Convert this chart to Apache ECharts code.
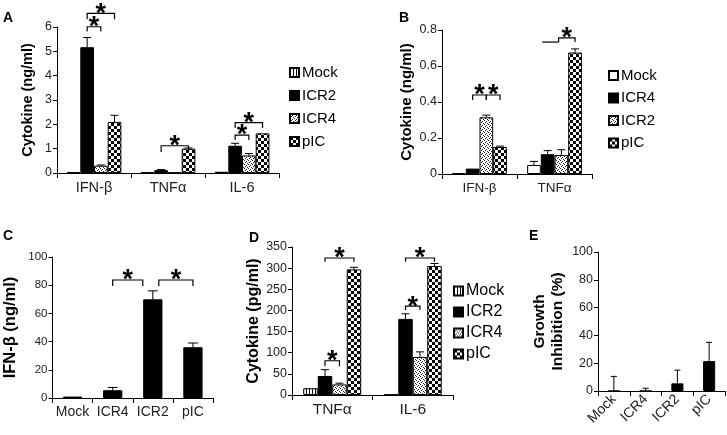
<!DOCTYPE html>
<html><head><meta charset="utf-8">
<script src="https://cdn.jsdelivr.net/npm/echarts@6/dist/echarts.min.js"></script>
<style>html,body{margin:0;padding:0;background:#fff}#c{width:727px;height:435px}</style>
</head><body><div id="c"></div>
<script>
// ---------- DATA ----------
// Panel A
const catsA = ['IFN-β', 'TNFα', 'IL-6'];
const mockA = [0.03, 0.03, 0.05];
const icr2A = [5.17, 0.12, 1.12];
const icr4A = [0.30, 0.02, 0.72];
const picA  = [2.10, 1.00, 1.63];
const errMockA = [0, 0, 0];
const errIcr2A = [0.40, 0.02, 0.10];
const errIcr4A = [0.03, 0, 0.08];
const errPicA  = [0.27, 0.03, 0];
// brackets: [category, fromBar, toBar, top, leftLegEnd, rightLegEnd, star]
const bracketsA = [[0,1,2,6.01,5.81,5.81,1],[0,1,3,6.56,6.32,6.32,1],[1,1,3,1.12,0.86,0.86,1],[2,1,2,1.56,1.36,1.36,1],[2,1,3,2.07,1.85,1.85,1]];
// Panel B
const catsB = ['IFN-β', 'TNFα'];
const mockB = [0.003, 0.05];
const icr4B = [0.03, 0.11];
const icr2B = [0.315, 0.105];
const picB  = [0.15, 0.675];
const errMockB = [0, 0.02];
const errIcr4B = [0, 0.02];
const errIcr2B = [0.012, 0.03];
const errPicB  = [0.005, 0.02];
const bracketsB = [[0,1,2,0.439,0.411,0.411,1],[0,2,3,0.439,0.411,0.411,1],[1,0.6,1.8,0.733,0.733,0.733,0],[1,1.8,3,0.756,0.733,0.733,1]];
// Panel C
const catsC = ['Mock', 'ICR4', 'ICR2', 'pIC'];
const valsC = [1, 5.5, 70, 36];
const errC  = [0, 2, 6, 3];
const bracketsC = [[1,0,0.75,83.7,79.4,79.4,1],[2,0.15,1,83.7,79.4,79.4,1]];
// Panel D
const catsD = ['TNFα', 'IL-6'];
const mockD = [16, 1];
const icr2D = [45, 180];
const icr4D = [25, 90];
const picD  = [297, 305];
const errMockD = [0, 0];
const errIcr2D = [15, 12];
const errIcr4D = [3, 12];
const errPicD  = [5, 6];
const bracketsD = [[0,1,2,81,68,68,1],[0,1,3,324,315,315,1],[1,1,2,210,201,201,1],[1,1,3,324,315,315,1]];
// Panel E
const catsE = ['Mock', 'ICR4', 'ICR2', 'pIC'];
const valsE = [0, 0, 5.5, 21.5];
const errE  = [10.5, 2, 9.5, 13.5];

// ---------- PATTERNS ----------
function makePattern(kind) {
  const c = document.createElement('canvas');
  const ctx = c.getContext('2d');
  if (kind === 'stripe') {
    c.width = 3; c.height = 3;
    ctx.fillStyle = '#fff'; ctx.fillRect(0,0,3,3);
    ctx.fillStyle = '#000'; ctx.fillRect(0,0,1,3);
  } else if (kind === 'dots') {
    c.width = 4; c.height = 4;
    ctx.fillStyle = '#fff'; ctx.fillRect(0,0,4,4);
    ctx.fillStyle = '#222';
    ctx.fillRect(0,0,1,1); ctx.fillRect(2,1,1,1); ctx.fillRect(1,2,1,1); ctx.fillRect(3,3,1,1);
  } else if (kind === 'checker') {
    c.width = 6; c.height = 6;
    ctx.fillStyle = '#fff'; ctx.fillRect(0,0,6,6);
    ctx.fillStyle = '#000'; ctx.fillRect(0,0,3,3); ctx.fillRect(3,3,3,3);
  }
  return { image: c, repeat: 'repeat' };
}
const FILL = {
  stripe: makePattern('stripe'),
  dots: makePattern('dots'),
  checker: makePattern('checker'),
  black: '#000',
  white: '#fff'
};

// ---------- HELPERS ----------
const FONT = '"Liberation Sans", Arial, sans-serif';
const panels = [
  { id: 0, n: 4, gap: 0.26, cap: 8 },
  { id: 1, n: 4, gap: 0.27, cap: 8 },
  { id: 2, n: 1, gap: 0,    cap: 10 },
  { id: 3, n: 4, gap: 0.28, cap: 8 },
  { id: 4, n: 1, gap: 0.62, cap: 6 }
];
function barX(api, cat, bar, n, gap) {
  const c = api.coord([cat, 0])[0];
  const bw = api.size([1, 0])[0];
  const step = bw * (1 - gap) / n;
  return c + (bar - (n - 1) / 2) * step;
}
function pIdx(p) { return 'ABCDE'.indexOf(p); }
function barSeries(p, name, data, fill) {
  return {
    type: 'bar', name: p + '|' + name, data: data,
    xAxisIndex: pIdx(p), yAxisIndex: pIdx(p),
    barGap: '0%', barCategoryGap: (panels[pIdx(p)].gap * 100) + '%',
    itemStyle: { color: fill, borderColor: '#000', borderWidth: 1 },
    emphasis: { disabled: true }, animation: false, z: 2
  };
}
function errSeries(p, groups) {
  const cfg = panels[pIdx(p)];
  const data = [];
  groups.forEach((g, bi) => g.v.forEach((v, ci) => { if (g.e[ci] > 0) data.push([ci, bi, v, g.e[ci]]); }));
  return {
    type: 'custom', xAxisIndex: pIdx(p), yAxisIndex: pIdx(p), data: data, z: 3, silent: true, animation: false,
    renderItem: (params, api) => {
      const x = barX(api, api.value(0), api.value(1), cfg.n, cfg.gap);
      const y0 = api.coord([0, api.value(2)])[1];
      const y1 = api.coord([0, api.value(2) + api.value(3)])[1];
      const st = { stroke: '#000', lineWidth: 1 };
      return { type: 'group', children: [
        { type: 'line', shape: { x1: x, y1: y0, x2: x, y2: y1 }, style: st },
        { type: 'line', shape: { x1: x - cfg.cap/2, y1: y1, x2: x + cfg.cap/2, y2: y1 }, style: st }
      ]};
    }
  };
}
function bracketSeries(p, br) {
  const cfg = panels[pIdx(p)];
  return {
    type: 'custom', xAxisIndex: pIdx(p), yAxisIndex: pIdx(p), data: br, z: 4, silent: true, clip: false, animation: false,
    renderItem: (params, api) => {
      const cat = api.value(0);
      const xa = barX(api, cat, api.value(1), cfg.n, cfg.gap);
      const xb = barX(api, cat, api.value(2), cfg.n, cfg.gap);
      const yt = api.coord([0, api.value(3)])[1];
      const yl = api.coord([0, api.value(4)])[1];
      const yr = api.coord([0, api.value(5)])[1];
      const st = { stroke: '#000', lineWidth: 1.2, fill: null };
      const ch = [{ type: 'polyline', shape: { points: [[xa, yl], [xa, yt], [xb, yt], [xb, yr]] }, style: st }];
      if (api.value(6)) ch.push({ type: 'text', x: (xa + xb) / 2, y: yt + 1,
        style: { text: '*', fontSize: 27, fontWeight: 'bold', fontFamily: FONT, fill: '#000', align: 'center', verticalAlign: 'middle' } });
      return { type: 'group', children: ch };
    }
  };
}
const grids = [
  { left: 57, top: 27, width: 222, height: 146 },
  { left: 442, top: 30, width: 150, height: 144 },
  { left: 52, top: 257, width: 161, height: 141 },
  { left: 292, top: 247, width: 161, height: 148 },
  { left: 598, top: 252, width: 127, height: 139 }
];
const axisLine = { show: true, lineStyle: { color: '#000', width: 1 } };
function xAx(i, cats, fs, extra) {
  return Object.assign({
    type: 'category', gridIndex: i, data: cats, boundaryGap: true,
    axisLine: axisLine, axisTick: { show: true, length: 5, lineStyle: { color: '#000' } },
    axisLabel: { color: '#222', fontSize: fs, fontFamily: FONT, margin: 7, interval: 0 },
    splitLine: { show: false }
  }, extra || {});
}
function yAx(i, max, interval, name, gap, nfs, fmt, fs) {
  return {
    type: 'value', gridIndex: i, min: 0, max: max, interval: interval,
    name: name, nameLocation: 'middle', nameGap: gap,
    nameTextStyle: { fontSize: nfs, fontWeight: 'bold', fontFamily: FONT, color: '#000', lineHeight: nfs + 2 },
    axisLine: axisLine, axisTick: { show: true, length: 4, lineStyle: { color: '#000' } },
    axisLabel: { color: '#222', fontSize: fs || 12.5, fontFamily: FONT, margin: 5, formatter: fmt },
    splitLine: { show: false }
  };
}
function legendBase(fs) {
  return {
    orient: 'vertical', itemWidth: 9, itemHeight: 9, icon: 'rect', selectedMode: false,
    textStyle: { fontSize: fs, fontFamily: FONT, color: '#000', padding: [0,0,0,-2] },
    formatter: n => n.split('|')[1], padding: 0
  };
}
const option = {
  animation: false,
  backgroundColor: '#fff',
  grid: grids,
  xAxis: [
    xAx(0, catsA, 14.5), xAx(1, catsB, 13.5), xAx(2, catsC, 14),
    xAx(3, catsD, 15.5),
    xAx(4, catsE, 14, { axisLabel: { color: '#222', fontSize: 14, fontFamily: FONT, rotate: 45, margin: 6, interval: 0 } })
  ],
  yAxis: [
    yAx(0, 6, 1, 'Cytokine (ng/ml)', 21, 14.5),
    yAx(1, 0.8, 0.2, 'Cytokine (ng/ml)', 26, 15, v => v === 0 ? '0' : v.toFixed(1)),
    yAx(2, 100, 20, 'IFN-β (ng/ml)', 33, 16.5, null, 11.5),
    yAx(3, 350, 50, 'Cytokine (pg/ml)', 22, 16),
    yAx(4, 100, 20, 'Growth\nInhibition (%)', 32, 15.5)
  ],
  legend: [
    Object.assign(legendBase(15), { left: 289, top: 65, itemGap: 8, data: ['A|Mock','A|ICR2','A|ICR4','A|pIC'] }),
    Object.assign(legendBase(15), { left: 608, top: 68, itemGap: 7.5, data: ['B|Mock','B|ICR4','B|ICR2','B|pIC'] }),
    Object.assign(legendBase(16), { left: 453, top: 283, itemGap: 5, data: ['D|Mock','D|ICR2','D|ICR4','D|pIC'] })
  ],
  graphic: [
    { type: 'text', left: 3, top: 11, style: { text: 'A', fontSize: 14, fontWeight: 'bold', fontFamily: FONT, fill: '#000' } },
    { type: 'text', left: 399, top: 11, style: { text: 'B', fontSize: 14, fontWeight: 'bold', fontFamily: FONT, fill: '#000' } },
    { type: 'text', left: 3, top: 229, style: { text: 'C', fontSize: 14, fontWeight: 'bold', fontFamily: FONT, fill: '#000' } },
    { type: 'text', left: 249, top: 231, style: { text: 'D', fontSize: 14, fontWeight: 'bold', fontFamily: FONT, fill: '#000' } },
    { type: 'text', left: 529, top: 229, style: { text: 'E', fontSize: 14, fontWeight: 'bold', fontFamily: FONT, fill: '#000' } }
  ],
  series: [
    barSeries('A', 'Mock', mockA, FILL.stripe),
    barSeries('A', 'ICR2', icr2A, FILL.black),
    barSeries('A', 'ICR4', icr4A, FILL.dots),
    barSeries('A', 'pIC', picA, FILL.checker),
    errSeries('A', [{v: mockA, e: errMockA}, {v: icr2A, e: errIcr2A}, {v: icr4A, e: errIcr4A}, {v: picA, e: errPicA}]),
    bracketSeries('A', bracketsA),

    barSeries('B', 'Mock', mockB, FILL.white),
    barSeries('B', 'ICR4', icr4B, FILL.black),
    barSeries('B', 'ICR2', icr2B, FILL.dots),
    barSeries('B', 'pIC', picB, FILL.checker),
    errSeries('B', [{v: mockB, e: errMockB}, {v: icr4B, e: errIcr4B}, {v: icr2B, e: errIcr2B}, {v: picB, e: errPicB}]),
    bracketSeries('B', bracketsB),

    Object.assign(barSeries('C', 'IFN', valsC, FILL.black), { barCategoryGap: '52%' }),
    errSeries('C', [{v: valsC, e: errC}]),
    bracketSeries('C', bracketsC),

    barSeries('D', 'Mock', mockD, FILL.stripe),
    barSeries('D', 'ICR2', icr2D, FILL.black),
    barSeries('D', 'ICR4', icr4D, FILL.dots),
    barSeries('D', 'pIC', picD, FILL.checker),
    errSeries('D', [{v: mockD, e: errMockD}, {v: icr2D, e: errIcr2D}, {v: icr4D, e: errIcr4D}, {v: picD, e: errPicD}]),
    bracketSeries('D', bracketsD),

    barSeries('E', 'GI', valsE, FILL.black),
    errSeries('E', [{v: valsE, e: errE}])
  ]
};
const chart = echarts.init(document.getElementById('c'), null, { renderer: 'canvas' });
chart.setOption(option);
</script>
</body></html>
